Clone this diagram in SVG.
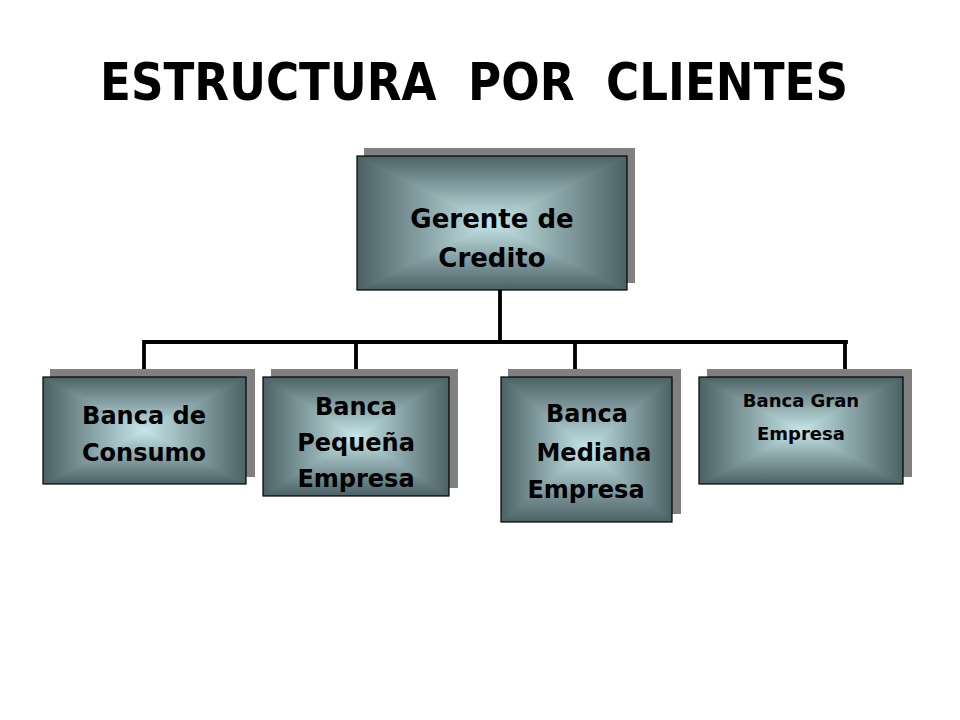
<svg xmlns="http://www.w3.org/2000/svg" width="960" height="720" viewBox="0 0 960 720">
  <defs>
    <linearGradient id="gh" x1="0" y1="0" x2="1" y2="0">
      <stop offset="0" stop-color="#4b6165"/>
      <stop offset="0.5" stop-color="#c6e6e9"/>
      <stop offset="1" stop-color="#4b6165"/>
    </linearGradient>
    <linearGradient id="gv" x1="0" y1="0" x2="0" y2="1">
      <stop offset="0" stop-color="#4b6165"/>
      <stop offset="0.5" stop-color="#c6e6e9"/>
      <stop offset="1" stop-color="#4b6165"/>
    </linearGradient>
    <clipPath id="hg" clipPathUnits="objectBoundingBox">
      <path d="M0,0 L1,0 L0.5,0.5 Z M0,1 L1,1 L0.5,0.5 Z"/>
    </clipPath>
  </defs>
  <style>
    .shadow { fill: #808080; }
    .bh { fill: url(#gh); }
    .bv { fill: url(#gv); clip-path: url(#hg); }
    .frame { fill: none; stroke: #000; stroke-width: 1.2; }
    .lbl { font-family: "Comic Sans MS", "DejaVu Sans", sans-serif; font-weight: bold; fill: #000; text-anchor: middle; }
    .conn { stroke: #000; stroke-width: 3.8; fill: none; stroke-linecap: square; }
  </style>
  <rect width="960" height="720" fill="#fff"/>

  <text x="474" y="100" class="lbl" font-size="51" textLength="748" lengthAdjust="spacingAndGlyphs" xml:space="preserve">ESTRUCTURA  POR  CLIENTES</text>

  <g id="connectors">
    <path class="conn" d="M500,290 V342 M144,342 H846 M144,342 V377 M356,342 V377 M575,342 V377 M845,342 V377"/>
  </g>

  <g id="gerente">
    <rect class="shadow" x="364" y="148" width="271" height="135"/>
    <rect class="bh" x="357" y="156" width="270" height="134"/>
    <rect class="bv" x="357" y="156" width="270" height="134"/>
    <rect class="frame" x="357" y="156" width="270" height="134"/>
    <text class="lbl" font-size="26" x="492" y="228">Gerente de</text>
    <text class="lbl" font-size="26" x="492" y="267">Credito</text>
  </g>

  <g id="consumo">
    <rect class="shadow" x="50" y="369" width="205" height="108"/>
    <rect class="bh" x="43" y="377" width="203" height="107"/>
    <rect class="bv" x="43" y="377" width="203" height="107"/>
    <rect class="frame" x="43" y="377" width="203" height="107"/>
    <text class="lbl" font-size="24" x="144" y="424">Banca de</text>
    <text class="lbl" font-size="24" x="144" y="461">Consumo</text>
  </g>

  <g id="pequena">
    <rect class="shadow" x="271" y="369" width="187" height="119"/>
    <rect class="bh" x="263" y="377" width="186" height="119"/>
    <rect class="bv" x="263" y="377" width="186" height="119"/>
    <rect class="frame" x="263" y="377" width="186" height="119"/>
    <text class="lbl" font-size="24" x="356" y="415">Banca</text>
    <text class="lbl" font-size="24" x="356" y="451">Pequeña</text>
    <text class="lbl" font-size="24" x="356" y="487">Empresa</text>
  </g>

  <g id="mediana">
    <rect class="shadow" x="508" y="369" width="173" height="145"/>
    <rect class="bh" x="501" y="377" width="171" height="145"/>
    <rect class="bv" x="501" y="377" width="171" height="145"/>
    <rect class="frame" x="501" y="377" width="171" height="145"/>
    <text class="lbl" font-size="24" x="587" y="422">Banca</text>
    <text class="lbl" font-size="24" x="594" y="461">Mediana</text>
    <text class="lbl" font-size="24" x="586" y="498">Empresa</text>
  </g>

  <g id="gran">
    <rect class="shadow" x="707" y="369" width="205" height="108"/>
    <rect class="bh" x="699" y="377" width="204" height="107"/>
    <rect class="bv" x="699" y="377" width="204" height="107"/>
    <rect class="frame" x="699" y="377" width="204" height="107"/>
    <text class="lbl" font-size="18" x="801" y="407">Banca Gran</text>
    <text class="lbl" font-size="18" x="801" y="440">Empresa</text>
  </g>
</svg>
